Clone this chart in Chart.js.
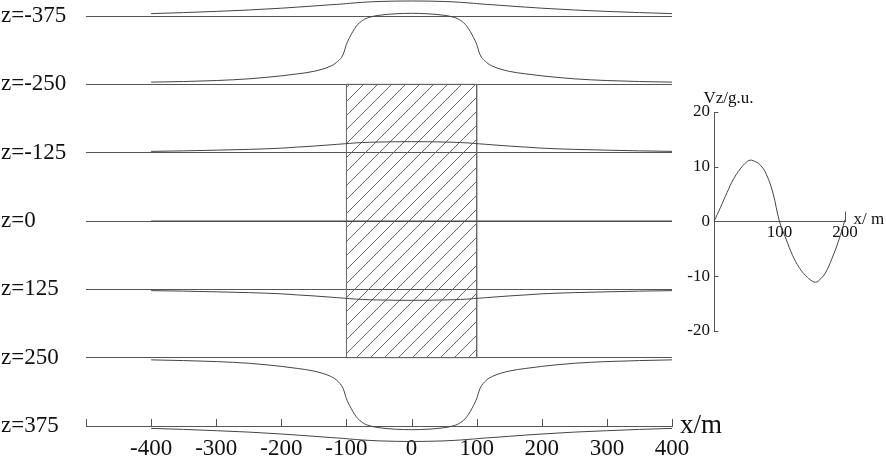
<!DOCTYPE html>
<html>
<head>
<meta charset="utf-8">
<script src="https://cdn.jsdelivr.net/npm/chart.js@4.4.1/dist/chart.umd.min.js"></script>
<style>
    html, body { margin: 0; padding: 0; background: #fff; }
    #wrap { position: relative; width: 886px; height: 459px; }
    #mainBox { position: absolute; left: 0; top: 0; width: 886px; height: 459px; }
    #insetBox { position: absolute; left: 660px; top: 90px; width: 226px; height: 260px; }
</style>
</head>
<body>
<div id="wrap">
    <div id="mainBox"><canvas id="main"></canvas></div>
    <div id="insetBox"><canvas id="inset"></canvas></div>
</div>
<script>
// observation levels (z, m) and profile positions (x, m)
const zLevels = [-375, -250, -125, 0, 125, 250, 375];
const xs = [-400, -350, -300, -250, -200, -175, -150, -125, -115, -105, -100, -95, -85, -75, -65, -50, -25,
    0, 25, 50, 65, 75, 85, 95, 100, 105, 115, 125, 150, 175, 200, 250, 300, 350, 400];

// anomaly at each level (plot units, positive = up)
const vzZm375 = [2.4, 3.4, 4.6, 6, 7.8, 8.9, 10, 11.2, 11.6, 12.1, 12.4, 12.7, 13.2, 13.7, 14.1, 14.5, 14.9,
    15, 14.9, 14.5, 14.1, 13.7, 13.2, 12.7, 12.4, 12.1, 11.6, 11.2, 10, 8.9, 7.8, 6, 4.6, 3.4, 2.4];
const vzZm250 = [2.2, 2.8, 3.8, 5.5, 8.5, 10.5, 13, 18, 22, 30, 40, 47, 58, 64, 67, 69, 70.5,
    71, 70.5, 69, 67, 64, 58, 47, 40, 30, 22, 18, 13, 10.5, 8.5, 5.5, 3.8, 2.8, 2.2];
const vzZm125 = [1.3, 1.8, 2.5, 3.3, 4.5, 5.6, 6.6, 7.8, 8.3, 8.8, 9, 9.3, 9.8, 10.1, 10.4, 10.6, 10.9,
    11, 10.9, 10.6, 10.4, 10.1, 9.8, 9.3, 9, 8.8, 8.3, 7.8, 6.6, 5.6, 4.5, 3.3, 2.5, 1.8, 1.3];
const vzZ0 = [0, 0, 0, 0, 0, 0, 0, 0, 0, 0, 0, 0, 0, 0, 0, 0, 0,
    0, 0, 0, 0, 0, 0, 0, 0, 0, 0, 0, 0, 0, 0, 0, 0, 0, 0];
const vzZ125 = [-1.3, -1.8, -2.5, -3.3, -4.5, -5.6, -6.6, -7.8, -8.3, -8.8, -9, -9.3, -9.8, -10.1, -10.4, -10.6, -10.9,
    -11, -10.9, -10.6, -10.4, -10.1, -9.8, -9.3, -9, -8.8, -8.3, -7.8, -6.6, -5.6, -4.5, -3.3, -2.5, -1.8, -1.3];
const vzZ250 = [-2.2, -2.9, -3.9, -5.6, -8.7, -10.8, -13.4, -18.5, -22.5, -31, -41, -48, -59, -65, -68, -70, -71.5,
    -72, -71.5, -70, -68, -65, -59, -48, -41, -31, -22.5, -18.5, -13.4, -10.8, -8.7, -5.6, -3.9, -2.9, -2.2];
const vzZ375 = [-2.4, -3.4, -4.7, -6.1, -8, -9.1, -10.3, -11.5, -11.9, -12.4, -12.7, -13, -13.5, -14, -14.4, -14.9, -15.3,
    -15.5, -15.3, -14.9, -14.4, -14, -13.5, -13, -12.7, -12.4, -11.9, -11.5, -10.3, -9.1, -8, -6.1, -4.7, -3.4, -2.4];
const levelValues = [vzZm375, vzZm250, vzZm125, vzZ0, vzZ125, vzZ250, vzZ375];

// prism outline (x, z)
const prismX = [-100, 100, 100, -100, -100];
const prismZ = [-250, -250, 250, 250, -250];

// axis ticks
const xTicks = [-500, -400, -300, -200, -100, 0, 100, 200, 300, 400];

// inset: Vz profile
const insetX = [0, 10, 20, 30, 40, 50, 55, 60, 70, 80, 90, 100, 110, 120, 130, 140, 150, 155, 160, 170, 180, 190, 200];
const insetVz = [0, 2.6, 5.3, 7.8, 9.6, 10.9, 11.2, 11.1, 10.4, 8.6, 5.2, 0, -3.2, -6.2, -8.4, -9.9, -10.9, -11.1, -10.8, -9.4, -6.8, -3.6, 0.3];

const PLOT_SCALE = 1.83;   // anomaly plot units -> z metres
const FONT = 'Liberation Serif';
const LINE = '#444';
const AXIS = '#555';
const TEXT = '#111';

function makeHatch() {
    const step = 14;
    const c = document.createElement('canvas');
    c.width = step;
    c.height = step;
    const g = c.getContext('2d');
    g.strokeStyle = '#6a6a6a';
    g.lineWidth = 1;
    g.beginPath();
    g.moveTo(-2, step + 2); g.lineTo(step + 2, -2);
    g.moveTo(-2, 2); g.lineTo(2, -2);
    g.moveTo(step - 2, step + 2); g.lineTo(step + 2, step - 2);
    g.stroke();
    return g.createPattern(c, 'repeat');
}

let datasets = zLevels.map((z, k) => ({
    data: xs.map((x, i) => ({x: x, y: z - levelValues[k][i] * PLOT_SCALE})),
    borderColor: LINE,
    borderWidth: 1,
    pointRadius: 0,
    fill: false,
    cubicInterpolationMode: 'monotone',
    clip: false
}));

datasets.push({
    data: prismX.map((x, i) => ({x: x, y: prismZ[i]})),
    borderColor: '#666',
    borderWidth: 1,
    pointRadius: 0,
    tension: 0,
    fill: 'shape',
    backgroundColor: makeHatch()
});

// inward tick marks on the x axis and the axis name
const mainDecor = {
    id: 'mainDecor',
    afterDraw(chart) {
        const ctx = chart.ctx;
        const sx = chart.scales.x;
        const bottom = chart.chartArea.bottom;
        ctx.save();
        ctx.strokeStyle = AXIS;
        ctx.lineWidth = 1;
        ctx.beginPath();
        xTicks.forEach((v) => {
            const px = Math.round(sx.getPixelForValue(v)) + 0.5;
            ctx.moveTo(px, bottom);
            ctx.lineTo(px, bottom - 7);
        });
        ctx.stroke();
        ctx.fillStyle = TEXT;
        ctx.font = `27px "${FONT}"`;
        ctx.textAlign = 'left';
        ctx.textBaseline = 'middle';
        ctx.fillText('x/m', chart.chartArea.right + 8, bottom);
        ctx.restore();
    }
};

new Chart(document.getElementById('main'), {
    type: 'line',
    data: {datasets: datasets},
    options: {
        responsive: true,
        maintainAspectRatio: false,
        animation: false,
        layout: {padding: {left: 1, right: 214, top: 16, bottom: 0}},
        plugins: {legend: {display: false}, tooltip: {enabled: false}},
        scales: {
            x: {
                type: 'linear',
                min: -500,
                max: 400,
                afterBuildTicks: (scale) => { scale.ticks = xTicks.map(v => ({value: v})); },
                ticks: {
                    autoSkip: false,
                    maxRotation: 0,
                    padding: 9,
                    color: TEXT,
                    font: {family: FONT, size: 23},
                    callback: (v) => v === -500 ? '' : String(v)
                },
                grid: {drawOnChartArea: false, drawTicks: false},
                border: {color: AXIS},
                afterFit: (scale) => { scale.height = 33; }
            },
            y: {
                type: 'linear',
                reverse: true,
                min: -375,
                max: 375,
                afterBuildTicks: (scale) => { scale.ticks = zLevels.map(v => ({value: v})); },
                ticks: {
                    padding: 0,
                    crossAlign: 'far',
                    color: TEXT,
                    font: {family: FONT, size: 23},
                    callback: (v) => 'z=' + v
                },
                grid: {color: AXIS, drawTicks: false},
                border: {display: false},
                afterFit: (scale) => { scale.width = 85; }
            }
        }
    },
    plugins: [mainDecor]
});

// inset tick marks and labels
const insetDecor = {
    id: 'insetDecor',
    afterDraw(chart) {
        const ctx = chart.ctx;
        const sx = chart.scales.x;
        const sy = chart.scales.y;
        const ax = Math.round(sx.getPixelForValue(0)) + 0.5;
        const ay = sy.getPixelForValue(0);
        ctx.save();
        ctx.strokeStyle = AXIS;
        ctx.lineWidth = 1;
        ctx.beginPath();
        [20, 10, -10, -20].forEach((v) => {
            const py = Math.round(sy.getPixelForValue(v)) + 0.5;
            ctx.moveTo(ax, py);
            ctx.lineTo(ax + 4, py);
        });
        const ex = Math.round(sx.getPixelForValue(200)) + 0.5;
        ctx.moveTo(ex, ay);
        ctx.lineTo(ex, ay - 10);
        ctx.stroke();
        ctx.fillStyle = TEXT;
        ctx.font = `17px "${FONT}"`;
        ctx.textBaseline = 'middle';
        ctx.textAlign = 'left';
        ctx.fillText('Vz/g.u.', ax - 11, sy.getPixelForValue(20) - 13);
        ctx.fillText('x/ m', ex + 8, ay - 2);
        ctx.restore();
    }
};

new Chart(document.getElementById('inset'), {
    type: 'line',
    data: {
        datasets: [{
            data: insetX.map((x, i) => ({x: x, y: insetVz[i]})),
            borderColor: LINE,
            borderWidth: 1,
            pointRadius: 0,
            fill: false,
            tension: 0.4,
            clip: false
        }]
    },
    options: {
        responsive: true,
        maintainAspectRatio: false,
        animation: false,
        layout: {padding: {left: 14, right: 41, top: 22, bottom: 19}},
        plugins: {legend: {display: false}, tooltip: {enabled: false}},
        scales: {
            x: {
                type: 'linear',
                min: 0,
                max: 200,
                position: {y: 0},
                ticks: {
                    stepSize: 100,
                    maxRotation: 0,
                    padding: 1,
                    color: TEXT,
                    font: {family: FONT, size: 17},
                    callback: (v) => v === 0 ? '' : String(v)
                },
                grid: {drawOnChartArea: false, drawTicks: false},
                border: {color: AXIS}
            },
            y: {
                type: 'linear',
                min: -20,
                max: 20,
                position: 'left',
                ticks: {
                    stepSize: 10,
                    padding: 4,
                    color: TEXT,
                    font: {family: FONT, size: 17}
                },
                grid: {drawOnChartArea: false, drawTicks: false},
                border: {color: AXIS},
                afterFit: (scale) => { scale.width = 40; }
            }
        }
    },
    plugins: [insetDecor]
});
</script>
</body>
</html>
